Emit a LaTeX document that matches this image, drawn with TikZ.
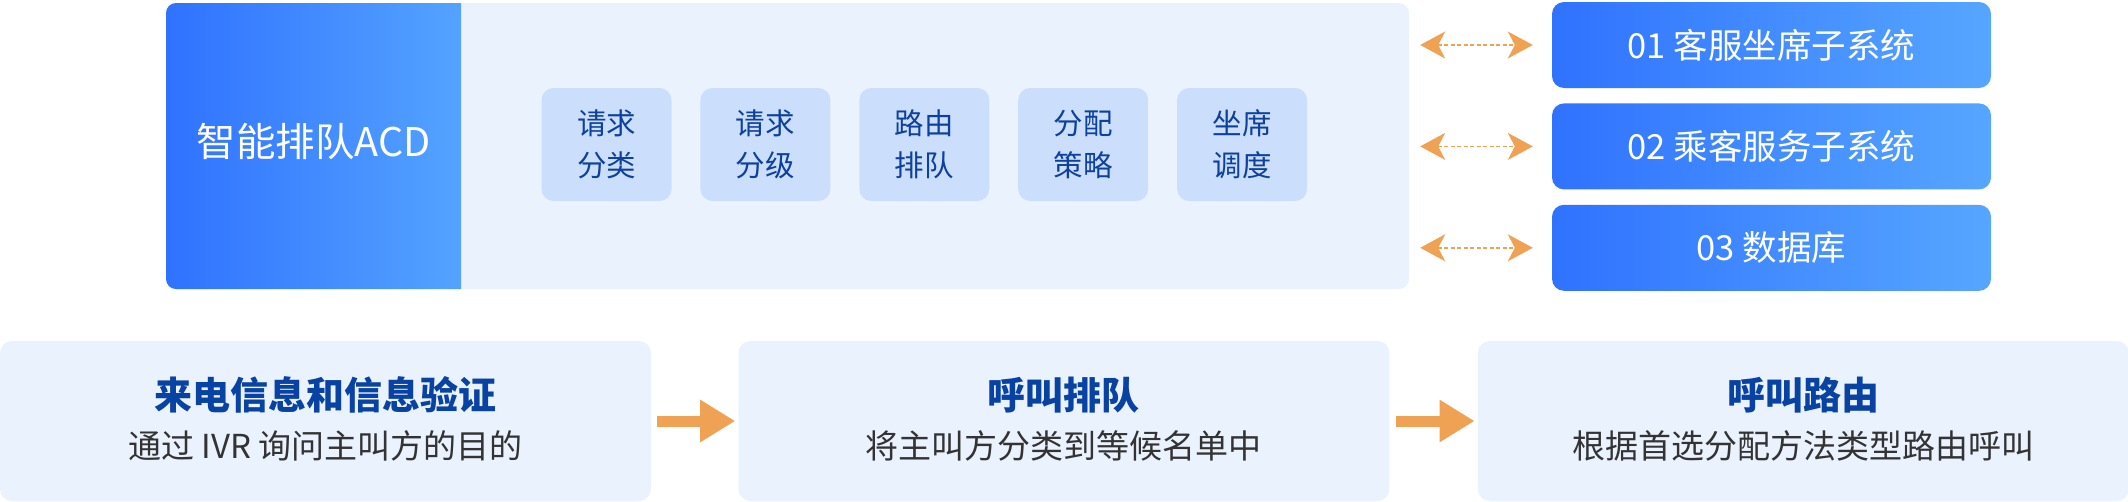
\documentclass[tikz,border=0pt]{standalone}
\usepackage{fontspec}
\setmainfont{Noto Sans CJK SC}
\usetikzlibrary{positioning}
\usetikzlibrary{arrows.meta}
\definecolor{acdleft}{RGB}{47,114,255}
\definecolor{acdright}{RGB}{86,166,255}
\definecolor{panelbg}{RGB}{234,242,254}
\definecolor{itembg}{RGB}{203,223,253}
\definecolor{itemtext}{RGB}{14,64,158}
\definecolor{headblue}{RGB}{8,66,162}
\definecolor{desctext}{RGB}{51,51,51}
\definecolor{linkorange}{RGB}{240,162,84}

\begin{document}
\begin{tikzpicture}
[x=1pt,y=-1pt,
panel/.style={fill=panelbg,rounded corners=10pt,inner sep=0pt},
item/.style={fill=itembg,rounded corners=12pt,minimum width=130pt,
  minimum height=113pt,inner sep=0pt,align=center,text=itemtext,
  font=\fontsize{29.5}{42}\selectfont},
sys/.style={left color=acdleft,right color=acdright,rounded corners=12pt,
  minimum width=439pt,minimum height=86pt,inner sep=0pt,text=white,
  font=\fontsize{34.5}{40}\selectfont},
stage/.style={fill=panelbg,rounded corners=12pt,minimum width=651pt,
  minimum height=160pt,inner sep=0pt},
stagehead/.style={text=headblue,font=\bfseries\fontsize{38}{44}\selectfont},
stagedesc/.style={text=desctext,font=\fontsize{33}{38}\selectfont},
link/.style={draw=linkorange,line width=1.6pt,dash pattern=on 4pt off 2.5pt,
  >={Stealth[length=25pt,width=27pt,inset=7pt]},<->,
  shorten <=11pt,shorten >=19pt},
flow/.style={draw=linkorange,line width=11pt,
  -{Triangle[length=35pt,width=40pt]},shorten <=6pt,shorten >=3pt}]

\useasboundingbox (0,0) rectangle (2128,501);

\node (panel) [panel,minimum width=1243pt,minimum height=286pt]
  at (787.5,146) {};

% ACD block
\begin{scope}
  \clip (166,3) rectangle (461,289);
  \shade [left color=acdleft,right color=acdright,rounded corners=10pt]
    (166,3) rectangle (480,289);
\end{scope}
\node (acd) [text=white,font=\fontsize{39.5}{46}\selectfont]
  at (313.5,141) {智能排队ACD};

\node (req1) [item] at (606.5,144.5) {请求\\分类};
\node (req2) [item,right=28.5pt of req1] {请求\\分级};
\node (route) [item,right=28.5pt of req2] {路由\\排队};
\node (assign) [item,right=28.5pt of route] {分配\\策略};
\node (seat) [item,right=28.5pt of assign] {坐席\\调度};

% subsystems
\node (sys1) [sys] at (1771.5,45) {01 客服坐席子系统};
\node (sys2) [sys,below=15pt of sys1] {02 乘客服务子系统};
\node (sys3) [sys,below=15pt of sys2] {03 数据库};

\draw [link] (panel.east |- sys1.west) -- (sys1.west);
\draw [link] (panel.east |- sys2.west) -- (sys2.west);
\draw [link] (panel.east |- sys3.west) -- (sys3.west);

% stages
\node (call) [stage] at (325.5,421) {};
\node (queue) [stage,right=87pt of call] {};
\node (routing) [stage,right=88pt of queue] {};

\node (callhead) [stagehead] at ([yshift=26pt]call.center) {来电信息和信息验证};
\node (calldesc) [stagedesc] at ([yshift=-25pt]call.center) {通过 IVR 询问主叫方的目的};
\node (queuehead) [stagehead] at ([yshift=26pt]queue.center) {呼叫排队};
\node (queuedesc) [stagedesc] at ([yshift=-25pt]queue.center) {将主叫方分类到等候名单中};
\node (routinghead) [stagehead] at ([yshift=26pt]routing.center) {呼叫路由};
\node (routingdesc) [stagedesc] at ([yshift=-25pt]routing.center) {根据首选分配方法类型路由呼叫};

\draw [flow] (call) -- (queue);
\draw [flow] (queue) -- (routing);
\end{tikzpicture}
\end{document}
